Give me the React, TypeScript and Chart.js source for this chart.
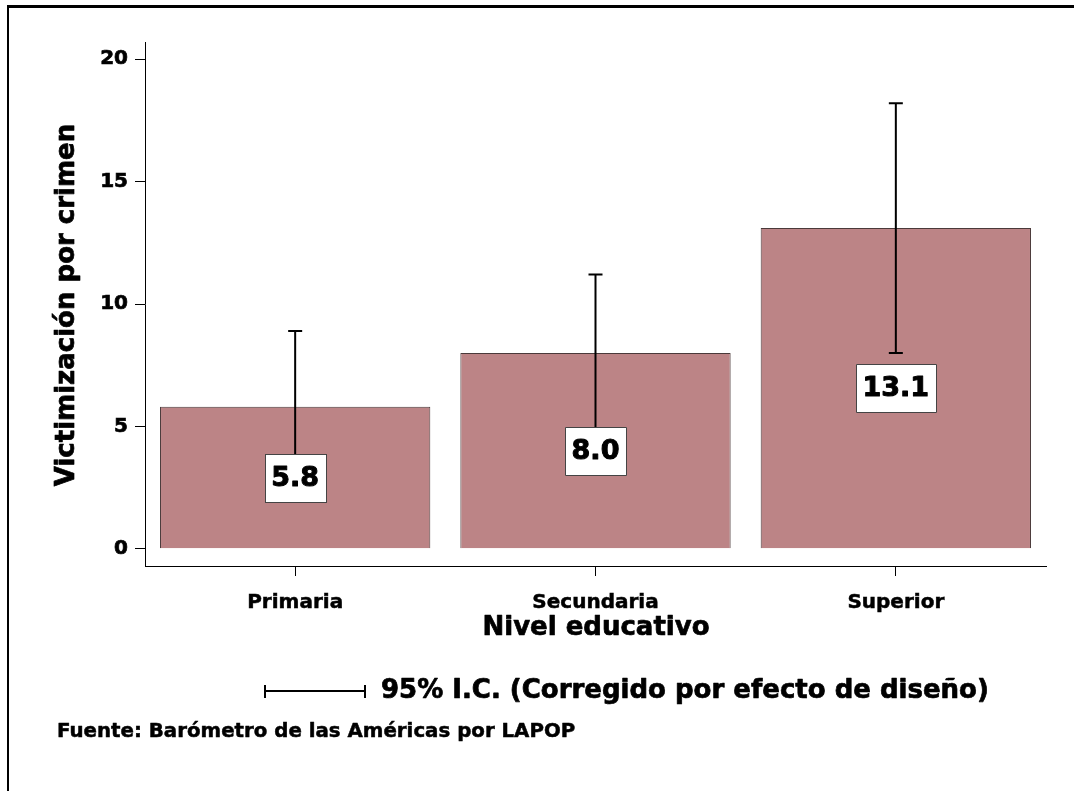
import React, { useEffect, useRef } from "react";
import { Chart, registerables } from "chart.js";

Chart.register(...registerables);

const categories = ["Primaria", "Secundaria", "Superior"];
const values = [5.8, 8.0, 13.1];
const ciLower = [2.7, 4.8, 8.0];
const ciUpper = [8.9, 11.2, 18.2];
const yTicks = [0, 5, 10, 15, 20];
const valueLabels = ["5.8", "8.0", "13.1"];
const yTitle = "Victimización por crimen";
const xTitle = "Nivel educativo";
const legendText = "95% I.C. (Corregido por efecto de diseño)";
const sourceText = "Fuente: Barómetro de las Américas por LAPOP";

const FONT = "'DejaVu Sans', 'Liberation Sans', sans-serif";

function heavyText(ctx: any, text: string, x: number, y: number, sw: number) {
  ctx.lineWidth = sw;
  ctx.lineJoin = "round";
  ctx.strokeStyle = "#000";
  ctx.strokeText(text, x, y);
  ctx.fillText(text, x, y);
}

const overlayPlugin = {
  id: "overlay",
  afterDatasetsDraw(chart: any) {
    const ctx = chart.ctx;
    const meta = chart.getDatasetMeta(0);
    const y = chart.scales.y;
    ctx.save();
    // error bars
    meta.data.forEach((bar: any, i: number) => {
      const x = bar.x;
      const yTop = y.getPixelForValue(ciUpper[i]);
      const yBot = y.getPixelForValue(ciLower[i]);
      ctx.strokeStyle = "#000";
      ctx.lineWidth = 2;
      ctx.beginPath();
      ctx.moveTo(x, yTop);
      ctx.lineTo(x, yBot);
      ctx.moveTo(x - 7, yTop);
      ctx.lineTo(x + 7, yTop);
      ctx.moveTo(x - 7, yBot);
      ctx.lineTo(x + 7, yBot);
      ctx.stroke();
    });
    // value label boxes
    ctx.font = `bold 27px ${FONT}`;
    meta.data.forEach((bar: any, i: number) => {
      const x = bar.x;
      const cy = y.getPixelForValue(values[i] / 2);
      const tw = ctx.measureText(valueLabels[i]).width;
      const w = Math.round(tw + 13);
      const h = 48;
      const left = Math.round(x - w / 2) + 0.5;
      const top = Math.round(cy - h / 2) + 0.5;
      ctx.fillStyle = "#fff";
      ctx.fillRect(left, top, w, h);
      ctx.strokeStyle = "#444";
      ctx.lineWidth = 1;
      ctx.strokeRect(left, top, w, h);
      ctx.fillStyle = "#000";
      ctx.textAlign = "center";
      ctx.textBaseline = "middle";
      heavyText(ctx, valueLabels[i], x, cy + 1, 1);
    });
    ctx.restore();
  },
  afterDraw(chart: any) {
    const ctx = chart.ctx;
    ctx.save();
    // frame
    ctx.fillStyle = "#000";
    ctx.fillRect(7, 5, 1067, 3);
    ctx.fillRect(7, 5, 2, 786);
    // axis titles
    ctx.fillStyle = "#000";
    ctx.textAlign = "center";
    ctx.textBaseline = "middle";
    ctx.font = `bold 26px ${FONT}`;
    heavyText(ctx, xTitle, 596, 628, 0.7);
    ctx.save();
    ctx.translate(67, 305);
    ctx.rotate(-Math.PI / 2);
    heavyText(ctx, yTitle, 0, 0, 0.7);
    ctx.restore();
    // legend
    ctx.strokeStyle = "#000";
    ctx.lineWidth = 2;
    ctx.beginPath();
    ctx.moveTo(265, 691);
    ctx.lineTo(365, 691);
    ctx.moveTo(265, 685);
    ctx.lineTo(265, 698);
    ctx.moveTo(365, 685);
    ctx.lineTo(365, 698);
    ctx.stroke();
    ctx.textAlign = "left";
    ctx.font = `bold 26px ${FONT}`;
    heavyText(ctx, legendText, 381, 691, 0.7);
    // source
    ctx.font = `bold 19.8px ${FONT}`;
    heavyText(ctx, sourceText, 57, 732, 0.5);
    ctx.restore();
  },
};

export default function App() {
  const ref = useRef<HTMLCanvasElement>(null);
  useEffect(() => {
    if (!ref.current) return;
    Chart.defaults.font.family = FONT;
    const chart = new Chart(ref.current, {
      type: "bar",
      data: {
        labels: categories,
        datasets: [
          {
            data: values,
            backgroundColor: "#BC8486",
            borderColor: "#4a3a3a",
            borderWidth: 1,
            barPercentage: 0.9,
            categoryPercentage: 1.0,
          },
        ],
      },
      options: {
        responsive: false,
        animation: false,
        layout: { padding: { top: 42, right: 28, left: 0, bottom: 0 } },
        plugins: { legend: { display: false }, tooltip: { enabled: false } },
        scales: {
          x: {
            offset: true,
            grid: { display: true, drawOnChartArea: false, drawTicks: true, tickLength: 10, color: "#000", offset: false },
            border: { display: true, color: "#000", width: 1 },
            ticks: {
              color: "#000",
              font: { size: 20, weight: "bold" },
              padding: 15,
              textStrokeColor: "#000",
              textStrokeWidth: 0.5,
            },
            afterFit: (s: any) => {
              s.height = 225;
            },
          },
          y: {
            min: -0.7,
            max: 20.7,
            afterBuildTicks: (s: any) => {
              s.ticks = yTicks.map((v) => ({ value: v }));
            },
            grid: { display: true, drawOnChartArea: false, drawTicks: true, tickLength: 10, color: "#000" },
            border: { display: true, color: "#000", width: 1 },
            ticks: {
              color: "#000",
              font: { size: 20, weight: "bold" },
              padding: 7,
              textStrokeColor: "#000",
              textStrokeWidth: 0.7,
            },
            afterFit: (s: any) => {
              s.width = 145;
            },
          },
        },
      },
      plugins: [overlayPlugin],
    });
    return () => chart.destroy();
  }, []);
  return (
    <div style={{ position: "absolute", left: 0, top: 0, width: 1074, height: 791, background: "#fff" }}>
      <canvas ref={ref} width={1074} height={791} style={{ display: "block" }} />
    </div>
  );
}
